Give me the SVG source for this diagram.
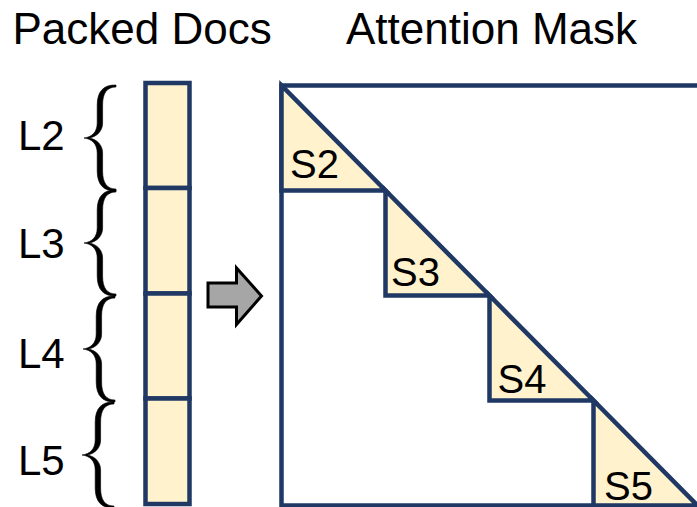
<svg xmlns="http://www.w3.org/2000/svg" width="697" height="507" viewBox="0 0 697 507">
  <style>
    .title { font-family: "Liberation Sans", Arial, sans-serif; font-size: 44px; fill: #000; }
    .lbl { font-family: "Liberation Sans", Arial, sans-serif; font-size: 42px; fill: #000; }
    .seg { font-family: "Liberation Sans", Arial, sans-serif; font-size: 40px; fill: #000; }
    .cell { fill: #fff2cc; stroke: #1f3864; stroke-width: 4.5; stroke-linejoin: miter; }
    .frame { fill: #fff; stroke: #1f3864; stroke-width: 4.5; }
    .brace { fill: #000; stroke: #000; stroke-width: 0.6; stroke-linejoin: round; }
  </style>
  <defs>
    <!-- tapered curly brace: tip at (0,53), ends at (32,1) and (32,105) -->
    <path id="brace" d="M32,0 C20,-0.5 13.2,6 13.2,20 L13.2,38 C13.2,47 8,52 0,53 C8,54 13.2,59 13.2,68 L13.2,86 C13.2,100 20,106.5 32,106 L32,104 C23,104 18.6,98 18.6,86 L18.6,68 C18.6,60 13,54.5 5.5,53 C13,51.5 18.6,46 18.6,38 L18.6,20 C18.6,8 23,2 32,2 Z"/>
  </defs>
  <rect width="697" height="507" fill="#fff"/>

  <!-- headings -->
  <text class="title" x="12.5" y="44">Packed Docs</text>
  <text class="title" x="346" y="44">Attention Mask</text>

  <!-- packed document column -->
  <g id="doc-L2">
    <rect class="cell" x="145.5" y="83" width="44" height="105"/>
    <use href="#brace" class="brace" x="84" y="85"/>
    <text class="lbl" x="18" y="150">L2</text>
  </g>
  <g id="doc-L3">
    <rect class="cell" x="145.5" y="188" width="44" height="105.5"/>
    <use href="#brace" class="brace" x="84" y="190"/>
    <text class="lbl" x="18" y="258">L3</text>
  </g>
  <g id="doc-L4">
    <rect class="cell" x="145.5" y="293.5" width="44" height="105"/>
    <use href="#brace" class="brace" x="83" y="296"/>
    <text class="lbl" x="18" y="368">L4</text>
  </g>
  <g id="doc-L5">
    <rect class="cell" x="145.5" y="398.5" width="44" height="105.5"/>
    <use href="#brace" class="brace" x="82" y="402"/>
    <text class="lbl" x="18" y="475">L5</text>
  </g>

  <!-- transform arrow -->
  <g id="connectors">
    <path d="M208,283 H236.5 V268 L261.5,296 L236.5,324.5 V307 H208 Z" fill="#a6a6a6" stroke="#000" stroke-width="3" stroke-linejoin="miter"/>
  </g>

  <!-- block-diagonal causal mask -->
  <g id="mask">
    <rect class="frame" x="281.5" y="85.5" width="420" height="420"/>
  </g>
  <g id="mask-S2">
    <path class="cell" d="M281.5,85.5 L281.5,190.5 L385.5,190.5 Z"/>
    <text class="seg" x="290" y="178">S2</text>
  </g>
  <g id="mask-S3">
    <path class="cell" d="M385.5,190.5 L385.5,295.5 L489.5,295.5 Z"/>
    <text class="seg" x="391" y="285.5">S3</text>
  </g>
  <g id="mask-S4">
    <path class="cell" d="M489.5,295.5 L489.5,400.5 L593.5,400.5 Z"/>
    <text class="seg" x="497.5" y="393">S4</text>
  </g>
  <g id="mask-S5">
    <path class="cell" d="M593.5,400.5 L593.5,505.5 L697.5,505.5 Z"/>
    <text class="seg" x="604" y="500">S5</text>
  </g>
</svg>
